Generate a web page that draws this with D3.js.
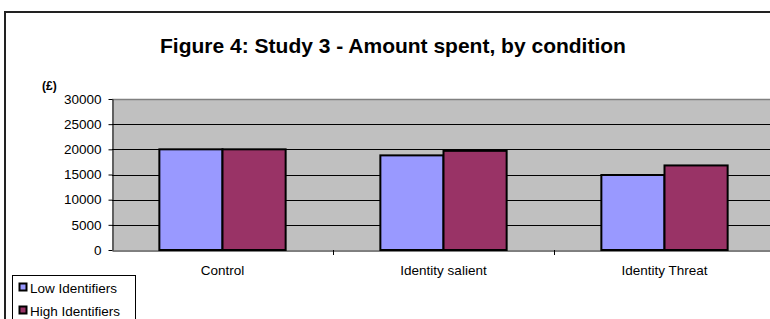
<!DOCTYPE html>
<html>
<head>
<meta charset="utf-8">
<script src="https://cdn.jsdelivr.net/npm/d3@7"></script>
<style>
  html, body { margin: 0; background: #fff; overflow: hidden; }
  svg { display: block; font-family: "Liberation Sans", Arial, sans-serif; }
</style>
</head>
<body>
<div id="chart"></div>
<script>
// data
const conditions = ["Control", "Identity salient", "Identity Threat"]
const lowIdentifiers = [20000, 18800, 14900]
const highIdentifiers = [20000, 19700, 16800]
const seriesNames = ["Low Identifiers", "High Identifiers"]
const seriesColors = ["#9999FF", "#993366"]
const yTicks = [0, 5000, 10000, 15000, 20000, 25000, 30000]

const width = 770, height = 319
const plot = {left: 112, top: 99, right: 775, bottom: 250}

const svg = d3.select("#chart").append("svg")
    .attr("width", width)
    .attr("height", height)

// outer chart frame (runs off the right/bottom edge like the original crop)
svg.append("rect")
    .attr("x", 5).attr("y", 12)
    .attr("width", 800).attr("height", 400)
    .attr("fill", "#fff")
    .attr("stroke", "#222").attr("stroke-width", 2)

svg.append("text")
    .attr("x", 393).attr("y", 53)
    .attr("text-anchor", "middle")
    .attr("font-size", 21).attr("font-weight", "bold")
    .text("Figure 4: Study 3 - Amount spent, by condition")

svg.append("text")
    .attr("x", 42).attr("y", 90)
    .attr("font-size", 12).attr("font-weight", "bold")
    .text("(£)")

const x0 = d3.scaleBand()
    .domain(conditions)
    .range([plot.left, plot.right])
    .paddingInner(0).paddingOuter(0)

const x1 = d3.scaleBand()
    .domain(seriesNames)
    .range([0, x0.bandwidth()])
    .paddingOuter(0.75)

const y = d3.scaleLinear()
    .domain([0, 30000])
    .range([plot.bottom, plot.top])

// plot background
svg.append("rect")
    .attr("x", plot.left).attr("y", plot.top)
    .attr("width", plot.right - plot.left).attr("height", plot.bottom - plot.top)
    .attr("fill", "#C0C0C0")

// gridlines
svg.append("g")
    .selectAll("line")
    .data(yTicks.filter(d => d > 0 && d < 30000))
    .enter().append("line")
        .attr("x1", plot.left).attr("x2", plot.right)
        .attr("y1", d => Math.round(y(d)) + 0.5).attr("y2", d => Math.round(y(d)) + 0.5)
        .attr("stroke", "#000").attr("stroke-width", 1)

svg.append("line")
    .attr("x1", plot.left).attr("x2", plot.right)
    .attr("y1", plot.top + 0.5).attr("y2", plot.top + 0.5)
    .attr("stroke", "#808080").attr("stroke-width", 1.5)

// bars
const rows = conditions.map((c, i) => ({c, vals: [lowIdentifiers[i], highIdentifiers[i]]}))

const groups = svg.append("g")
    .selectAll("g")
    .data(rows)
    .enter().append("g")
        .attr("transform", d => "translate(" + x0(d.c) + ",0)")

groups.selectAll("rect")
    .data(d => d.vals.map((v, k) => ({name: seriesNames[k], v, k})))
    .enter().append("rect")
        .attr("x", d => x1(d.name))
        .attr("y", d => y(d.v))
        .attr("width", x1.bandwidth())
        .attr("height", d => y(0) - y(d.v))
        .attr("fill", d => seriesColors[d.k])
        .attr("stroke", "#000").attr("stroke-width", 2)

// y axis
const yAxis = svg.append("g")
    .attr("transform", "translate(" + (plot.left + 0.5) + ",0)")
    .call(d3.axisLeft(y).tickValues(yTicks).tickFormat(d3.format("d"))
        .tickSize(4).tickPadding(7).tickSizeOuter(0))
yAxis.select(".domain").attr("stroke", "#000")
yAxis.selectAll("text").attr("font-size", 13.5).attr("fill", "#000")
    .attr("font-family", "Liberation Sans, Arial, sans-serif")

// x axis
const xAxis = svg.append("g")
    .attr("transform", "translate(0," + (plot.bottom + 0.5) + ")")
    .call(d3.axisBottom(x0).tickSize(0).tickPadding(15).tickSizeOuter(0))
xAxis.select(".domain").attr("stroke", "#000")
xAxis.selectAll("text").attr("font-size", 13.5).attr("fill", "#000")
    .attr("font-family", "Liberation Sans, Arial, sans-serif")

// category separator ticks
svg.append("g")
    .selectAll("line")
    .data(conditions.slice(1))
    .enter().append("line")
        .attr("x1", d => Math.round(x0(d)) + 0.5).attr("x2", d => Math.round(x0(d)) + 0.5)
        .attr("y1", plot.bottom).attr("y2", plot.bottom + 5)
        .attr("stroke", "#000")

// legend
const legend = svg.append("g")
legend.append("rect")
    .attr("x", 12.5).attr("y", 275.5)
    .attr("width", 123).attr("height", 60)
    .attr("fill", "#fff").attr("stroke", "#000")

const items = legend.selectAll("g.item")
    .data(seriesNames)
    .enter().append("g")
        .attr("class", "item")
        .attr("transform", (d, i) => "translate(18," + (282 + i * 23) + ")")

items.append("rect")
    .attr("x", 1.5).attr("y", 1.5)
    .attr("width", 7).attr("height", 7)
    .attr("fill", (d, i) => seriesColors[i])
    .attr("stroke", "#000").attr("stroke-width", 2)

items.append("text")
    .attr("x", 12).attr("y", 11)
    .attr("font-size", 13.5)
    .text(d => d)
</script>
</body>
</html>
